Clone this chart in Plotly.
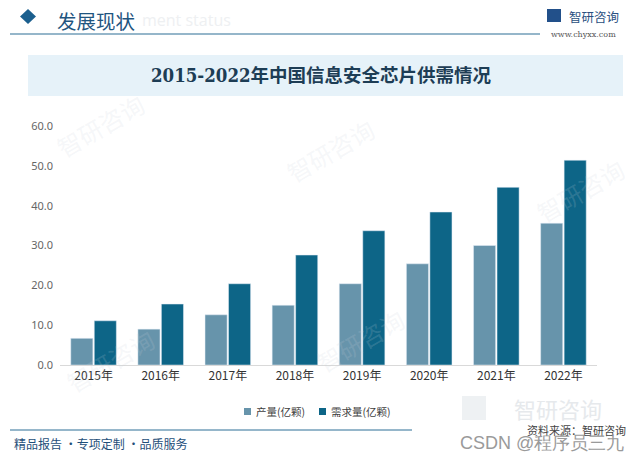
import plotly.graph_objects as go

years = ["2015年", "2016年", "2017年", "2018年", "2019年", "2020年", "2021年", "2022年"]
production = [6.7, 9.0, 12.6, 15.0, 20.4, 25.4, 30.0, 35.6]
demand = [11.1, 15.3, 20.4, 27.6, 33.7, 38.4, 44.6, 51.4]
series_names = ["产量(亿颗)", "需求量(亿颗)"]
series_colors = ["#6794ab", "#0d6587"]
y_ticks = [0, 10, 20, 30, 40, 50, 60]
y_tick_labels = ["0.0", "10.0", "20.0", "30.0", "40.0", "50.0", "60.0"]

FONT = "Noto Sans CJK SC"

fig = go.Figure()
fig.add_trace(go.Bar(name=series_names[0], x=years, y=production, marker_color=series_colors[0]))
fig.add_trace(go.Bar(name=series_names[1], x=years, y=demand, marker_color=series_colors[1]))

# page body has an 8px margin; lay out in visible-window pixels
OFF = 8
W, H = 640, 457
PL, PR, PT, PB = 60, 597, 126, 365   # plot area in visible pixels
L = PL - OFF
T = PT - OFF
pw = PR - PL
ph = PB - PT
R = W - L - pw
B = H - T - ph

def px(x):
    return (x - OFF - L) / pw

def py(y):
    return (H - B - (y - OFF)) / ph

shapes = [
    dict(type="rect", xref="paper", yref="paper", x0=px(28), x1=px(623), y0=py(96), y1=py(55),
         fillcolor="#e6f2f9", line_width=0, layer="below"),
    dict(type="line", xref="paper", yref="paper", x0=px(10), x1=px(540), y0=py(34), y1=py(34),
         line=dict(color="#2d6f96", width=1.2)),
    dict(type="line", xref="paper", yref="paper", x0=px(10), x1=px(412), y0=py(430), y1=py(430),
         line=dict(color="#2d6f96", width=1)),
    dict(type="path", xref="paper", yref="paper",
         path=f"M {px(20)} {py(16.5)} L {px(28)} {py(9)} L {px(36)} {py(16.5)} L {px(28)} {py(24)} Z",
         fillcolor="#1b5f8e", line_width=0),
    # logo mark
    dict(type="rect", xref="paper", yref="paper", x0=px(547), x1=px(561), y0=py(22), y1=py(9),
         fillcolor="#22508a", line_width=0),
    dict(type="rect", xref="paper", yref="paper", x0=px(462), x1=px(486), y0=py(420), y1=py(396),
         fillcolor="#e3e7eb", line_width=0, opacity=0.6),
]

annotations = [
    dict(text="发展现状", x=px(55), y=py(20.5), xref="paper", yref="paper", xanchor="left", yanchor="middle",
         showarrow=False, font=dict(family=FONT, size=19.5, color="#1f5580")),
    dict(text="ment status", x=px(140), y=py(20), xref="paper", yref="paper", xanchor="left", yanchor="middle",
         showarrow=False, font=dict(family="Open Sans", size=16, color="#eef0f2")),
    dict(text="智研咨询", x=px(567), y=py(16), xref="paper", yref="paper", xanchor="left", yanchor="middle",
         showarrow=False, font=dict(family=FONT, size=12.5, color="#2a4f80")),
    dict(text="www.chyxx.com", x=px(583), y=py(34), xref="paper", yref="paper", xanchor="center", yanchor="middle",
         showarrow=False, font=dict(family="DejaVu Serif", size=8, color="#555555")),
    dict(text="<b>2015-2022年中国信息安全芯片供需情况</b>", x=px(321), y=py(75), xref="paper", yref="paper",
         xanchor="center", yanchor="middle", showarrow=False,
         font=dict(family="DejaVu Serif Condensed, Noto Sans CJK SC", size=18.5, color="#1d3d55")),
    dict(text="精品报告 ·专项定制 ·品质服务", x=px(12), y=py(443), xref="paper", yref="paper",
         xanchor="left", yanchor="middle", showarrow=False, font=dict(family=FONT, size=12, color="#1f4f7a")),
    dict(text="资料来源：智研咨询", x=px(628), y=py(430), xref="paper", yref="paper",
         xanchor="right", yanchor="middle", showarrow=False, font=dict(family=FONT, size=11, color="#444444")),
    dict(text="CSDN @程序员三九", x=px(626), y=py(443), xref="paper", yref="paper",
         xanchor="right", yanchor="middle", showarrow=False, font=dict(family="Liberation Sans", size=18, color="#9a9a9a")),
    dict(text="智研咨询", x=px(558), y=py(408), xref="paper", yref="paper",
         xanchor="center", yanchor="middle", showarrow=False, font=dict(family=FONT, size=22, color="#e6e9ec")),
]
# faint watermarks
for (wx, wy) in [(100, 125), (330, 150), (110, 360), (580, 190), (360, 340)]:
    annotations.append(dict(text="智研咨询", x=px(wx), y=py(wy), xref="paper", yref="paper",
                            xanchor="center", yanchor="middle", showarrow=False, textangle=-30,
                            font=dict(family=FONT, size=24, color="rgba(200,210,220,0.18)")))

# compact legend (small squares close to the labels, as in the reference)
for (sx, name, color) in zip([244, 319], series_names, series_colors):
    shapes.append(dict(type="rect", xref="paper", yref="paper", x0=px(sx), x1=px(sx + 7),
                       y0=py(415), y1=py(408), fillcolor=color, line_width=0))
    annotations.append(dict(text=name, x=px(sx + 10), y=py(411.5), xref="paper", yref="paper",
                            xanchor="left", yanchor="middle", showarrow=False,
                            font=dict(family=FONT, size=10.5, color="#404040")))

fig.update_layout(
    width=W, height=H,
    margin=dict(l=L, r=R, t=T, b=B, autoexpand=False),
    paper_bgcolor="white", plot_bgcolor="white",
    barmode="group", bargap=0.3, bargroupgap=0.06,
    font=dict(family=FONT, color="#404040"),
    shapes=shapes, annotations=annotations,
    showlegend=False,
    xaxis=dict(showline=True, linecolor="#d9d9d9", linewidth=1, ticks="",
               tickfont=dict(family=FONT, size=12, color="#333333"), fixedrange=True),
    yaxis=dict(range=[0, 60], tickvals=y_ticks, ticktext=y_tick_labels, showgrid=False, zeroline=False,
               tickfont=dict(family="Noto Sans", size=11, color="#666666"), ticklen=0, ticks="",
               ticklabelstandoff=6),
)

fig.write_html("out.html")
